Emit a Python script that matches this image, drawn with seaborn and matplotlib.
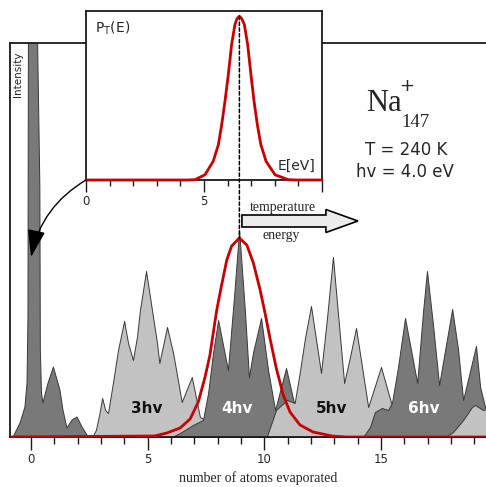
import numpy as np
import matplotlib
matplotlib.use("Agg")
import matplotlib.pyplot as plt
from matplotlib.patches import ConnectionPatch, FancyArrow
import seaborn as sns

# ---------------------------------------------------------------------------
# Photo-fragmentation spectrum of Na147+ : intensity vs. number of atoms
# evaporated, one envelope per number of absorbed photons.
# ---------------------------------------------------------------------------
parent_x = [-0.77, -0.47, -0.26, -0.17, -0.13, -0.11, 0.10, 0.28, 0.38, 0.40,
            0.45, 0.51, 0.73, 0.96, 1.24, 1.37, 1.54, 1.76, 1.97, 2.19, 2.40, 2.50]
parent_y = [0, 14, 30, 54, 120, 420, 1200, 400, 250, 87,
            44, 34, 54, 70, 47, 27, 9, 17, 20, 10, 2, 0]

hv3_x = [2.62, 2.78, 2.92, 3.05, 3.18, 3.30, 3.51, 3.73, 3.99, 4.16, 4.37, 4.54,
         4.67, 4.93, 5.40, 5.50, 5.83, 6.09, 6.46, 6.89, 7.24, 7.46, 7.76, 8.05]
hv3_y = [0, 7, 22, 39, 27, 24, 54, 87, 116, 94, 77, 100,
         127, 166, 94, 74, 110, 84, 35, 60, 20, 17, 7, 0]

hv4_x = [6.04, 6.39, 6.94, 7.37, 7.59, 7.80, 8.02, 8.44, 8.70, 8.92, 9.17,
         9.34, 9.52, 9.86, 10.16, 10.46, 10.93, 11.36, 11.60, 11.90, 12.10]
hv4_y = [0, 4, 12, 17, 44, 84, 117, 67, 140, 207, 125,
         60, 85, 119, 67, 27, 69, 25, 12, 4, 0]

hv5_x = [10.10, 10.50, 10.97, 11.30, 11.50, 11.75, 12.00, 12.43, 12.69, 12.94,
         13.42, 13.67, 13.93, 14.45, 15.00, 15.46, 15.82, 16.25]
hv5_y = [0, 27, 37, 34, 62, 100, 131, 64, 120, 180,
         54, 80, 109, 30, 70, 32, 12, 0]

hv6_x = [14.23, 14.53, 14.74, 15.04, 15.30, 15.47, 15.73, 16.03, 16.55, 16.80,
         16.97, 17.23, 17.49, 18.05, 18.30, 18.52, 19.07, 19.25, 19.46, 19.50]
hv6_y = [0, 10, 25, 29, 27, 34, 70, 119, 54, 125,
         166, 112, 52, 128, 88, 37, 91, 50, 30, 28]

hv7_x = [17.75, 18.09, 18.52, 18.90, 19.03, 19.37, 19.50]
hv7_y = [0, 5, 17, 30, 32, 27, 28]

group_labels = ["3hv", "4hv", "5hv", "6hv"]
group_label_x = [4.94, 8.85, 12.88, 16.82]
group_label_colors = ["#111111", "white", "#111111", "white"]

# energy distribution mapped onto the evaporation axis (red envelope)
dist_x = [-0.9, 5.3, 5.82, 6.39, 6.82, 7.17, 7.46, 7.67, 7.81, 7.96, 8.17, 8.39,
          8.60, 8.93, 9.25, 9.53, 9.81, 10.03, 10.24, 10.50, 10.81, 11.10, 11.53,
          12.09, 12.90, 13.50, 19.5]
dist_y = [0, 1, 4, 9, 18, 35, 60, 82, 104, 127, 152, 177,
          191, 199, 192, 174, 148, 124, 99, 70, 42, 25, 12,
          5, 1, 0, 0]

# inset: internal-energy distribution P_T(E)
energy = [0, 4.30, 4.62, 5.04, 5.39, 5.61, 5.75, 5.89, 6.03, 6.17, 6.31, 6.40,
          6.50, 6.60, 6.71, 6.85, 6.99, 7.12, 7.26, 7.41, 7.63, 8.01, 8.57, 8.90, 10]
p_energy = [0, 0, 0.002, 0.032, 0.114, 0.216, 0.338, 0.482, 0.643, 0.827, 0.949, 0.985,
            1.0, 0.985, 0.949, 0.827, 0.643, 0.482, 0.338, 0.216, 0.114, 0.032, 0.002, 0, 0]

main_ticks = [0, 5, 10, 15]
inset_ticks = [0, 5, 10]
inset_ticklabels = ["0", "5", ""]

# ---------------------------------------------------------------------------
sns.set_theme(style="ticks")
plt.rcParams["font.family"] = ["DejaVu Sans"]

RED = "#c60000"
DARK = "#797979"
LIGHT = "#c2c2c2"
EDGE = "#383838"
FRAME = "#1a1a1a"
SERIF = "Liberation Serif"

W, H = 486, 487
fig = plt.figure(figsize=(W / 100, H / 100), dpi=100, facecolor="white")


def fx(px):
    return px / W


def fy(py):
    return 1 - py / H


ax = fig.add_axes([fx(10), fy(437), 1 - fx(10), (437 - 43) / H])
ax.set_xlim(-0.9, 19.5)
ax.set_ylim(0, 394)

groups = [(parent_x, parent_y, DARK), (hv3_x, hv3_y, LIGHT), (hv4_x, hv4_y, DARK),
          (hv5_x, hv5_y, LIGHT), (hv6_x, hv6_y, DARK), (hv7_x, hv7_y, LIGHT)]
for i, (gx, gy, col) in enumerate(groups):
    ax.fill_between(gx, gy, 0, facecolor=col, edgecolor=EDGE, linewidth=0.7,
                    zorder=2 + i * 0.1)

for lab, lx, lc in zip(group_labels, group_label_x, group_label_colors):
    ax.text(lx, 24, lab, ha="center", va="baseline", fontsize=11,
            fontweight="bold", color=lc, zorder=4)

sns.lineplot(x=dist_x, y=dist_y, ax=ax, color=RED, linewidth=2.0,
             sort=False, estimator=None, zorder=5)

for side in ["left", "top", "bottom"]:
    ax.spines[side].set_color(FRAME)
    ax.spines[side].set_linewidth(1.3)
ax.spines["right"].set_visible(False)
ax.set_yticks([])
ax.set_xticks(main_ticks)
ax.set_xticklabels([str(t) for t in main_ticks])
ax.set_xticks(np.arange(0, 20), minor=True)
ax.tick_params(axis="x", which="major", direction="out", length=9, width=1.0,
               pad=2.5, labelsize=8.5, color=FRAME)
ax.tick_params(axis="x", which="minor", direction="out", length=5, width=1.0,
               color=FRAME)
ax.set_xlabel("number of atoms evaporated", family=SERIF, fontsize=10)
ax.xaxis.set_label_coords(0.522, -0.088)

# hollow "temperature / energy" arrow
ax.add_patch(FancyArrow(9.04, 216, 4.97, 0, width=12, head_width=23,
                        head_length=1.37, length_includes_head=True,
                        facecolor="#ececec", edgecolor="black", linewidth=1.2,
                        zorder=6))
ax.text(10.8, 226, "temperature", family=SERIF, fontsize=10, ha="center",
        va="baseline", zorder=6)
ax.text(10.72, 198, "energy", family=SERIF, fontsize=10, ha="center",
        va="baseline", zorder=6)

# ---------------------------------------------------------------------------
ins = fig.add_axes([fx(86), fy(180), (322 - 86) / W, (180 - 11) / H])
ins.set_facecolor("white")
sns.lineplot(x=energy, y=p_energy, ax=ins, color=RED, linewidth=2.0,
             sort=False, estimator=None, zorder=5, clip_on=False)
ins.set_xlim(0, 10)
ins.set_ylim(0, 1.032)
ins.set_yticks([])
ins.set_xticks(inset_ticks)
ins.set_xticklabels(inset_ticklabels)
ins.set_xticks(np.arange(0, 11), minor=True)
ins.tick_params(axis="x", which="major", direction="out", length=8.5, width=1.0,
                pad=2.5, labelsize=8.5, color=FRAME)
ins.tick_params(axis="x", which="minor", direction="out", length=4, width=1.0,
                color=FRAME)
for side in ins.spines.values():
    side.set_color(FRAME)
    side.set_linewidth(1.3)
ins.text(0.038, 0.87, r"$\mathregular{P_T(E)}$", transform=ins.transAxes,
         fontsize=10, ha="left", va="baseline")
ins.text(0.97, 0.06, "E[eV]", transform=ins.transAxes, fontsize=10,
         ha="right", va="baseline")

# dashed guide from the distribution maximum to the spectrum maximum
i_top = int(np.argmax(p_energy))
j_top = int(np.argmax(dist_y))
fig.add_artist(ConnectionPatch(xyA=(energy[i_top], p_energy[i_top]), coordsA=ins.transData,
                               xyB=(dist_x[j_top], dist_y[j_top]), coordsB=ax.transData,
                               linestyle=(0, (2.2, 1.6)), linewidth=1.1,
                               color="black", zorder=7))

# curved arrow from the inset origin down to the parent peak
fig.add_artist(ConnectionPatch(xyA=(0, 0), coordsA=ins.transData,
                               xyB=(0, 180), coordsB=ax.transData,
                               arrowstyle="-|>,head_length=1.7,head_width=0.55",
                               connectionstyle="arc3,rad=0.22",
                               mutation_scale=10, shrinkA=0, shrinkB=0,
                               linewidth=1.0, color="black", zorder=7))

# ---------------------------------------------------------------------------
fig.text(18 / W, fy(74), "Intensity", rotation=90, ha="center", va="center",
         fontsize=7.5)
fig.text(fx(366), fy(111), "Na", family=SERIF, fontsize=22, ha="left",
         va="baseline")
fig.text(fx(407), fy(86), "+", fontsize=13, ha="center", va="center")
fig.text(fx(401), fy(127), "147", family=SERIF, fontsize=13.5, ha="left",
         va="baseline")
fig.text(fx(406), fy(155), "T = 240 K", fontsize=12, ha="center", va="baseline")
fig.text(fx(405), fy(177), "hv = 4.0 eV", fontsize=12, ha="center",
         va="baseline")

fig.savefig("out.png", dpi=100, facecolor="white")
